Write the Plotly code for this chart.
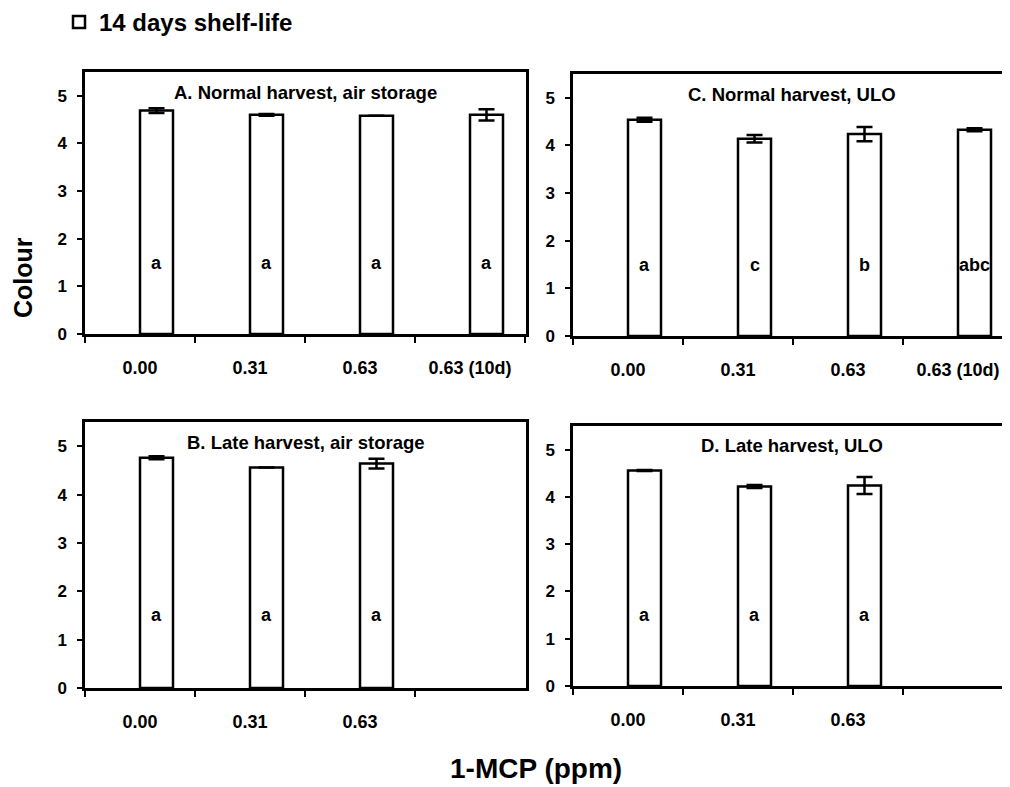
import plotly.graph_objects as go

# ---------------- data ----------------
doses_4 = ["0.00", "0.31", "0.63", "0.63 (10d)"]
doses_3 = ["0.00", "0.31", "0.63"]

series_name = "14 days shelf-life"

title_A = "A. Normal harvest, air storage"
colour_A = [4.69, 4.60, 4.58, 4.60]
err_A = [0.05, 0.02, 0.0, 0.12]
letters_A = ["a", "a", "a", "a"]

title_C = "C. Normal harvest, ULO"
colour_C = [4.54, 4.14, 4.24, 4.33]
err_C = [0.04, 0.08, 0.15, 0.03]
letters_C = ["a", "c", "b", "abc"]

title_B = "B. Late harvest, air storage"
colour_B = [4.76, 4.56, 4.64]
err_B = [0.03, 0.0, 0.10]
letters_B = ["a", "a", "a"]

title_D = "D. Late harvest, ULO"
colour_D = [4.56, 4.22, 4.24]
err_D = [0.01, 0.03, 0.18]
letters_D = ["a", "a", "a"]

y_ticks = [0, 1, 2, 3, 4, 5]
letter_y = 1.5

# ---------------- figure ----------------
OFF = 8                      # default page (body) margin
W, H = 1010 - OFF, 787 - OFF
FONT = "Liberation Sans, Arial, Helvetica, sans-serif"


def px(xp):
    return (xp - OFF) / W


def py(yp):
    return 1 - (yp - OFF) / H


panels = [
    # (suffix, cats, values, errs, letters, title, x span (page px), y span top/bottom (page px), right border)
    ("", doses_4, colour_A, err_A, letters_A, title_A, (85, 526), (72, 334), True),
    ("2", doses_4, colour_C, err_C, letters_C, title_C, (573, 1010), (74, 336), False),
    ("3", doses_3, colour_B, err_B, letters_B, title_B, (85, 526), (422, 688), True),
    ("4", doses_3, colour_D, err_D, letters_D, title_D, (573, 1010), (426, 686), False),
]

fig = go.Figure()
annotations = []

for i, (sfx, cats, vals, errs, lets, ttl, xd, yd, rborder) in enumerate(panels):
    xa = "x" + sfx
    ya = "y" + sfx
    fig.add_trace(go.Bar(
        x=cats, y=vals, xaxis=xa, yaxis=ya,
        name=series_name, showlegend=(i == 0),
        width=0.3, offset=0,
        marker=dict(color="white", line=dict(color="black", width=2.5)),
        error_y=dict(type="data", array=errs, visible=True,
                     color="black", thickness=2.5, width=8),
    ))
    for j, l in enumerate(lets):
        annotations.append(dict(
            x=j + 0.15, y=letter_y, xref=xa, yref=ya, text=l, showarrow=False,
            font=dict(family=FONT, size=18, color="black", weight="bold"),
        ))
    annotations.append(dict(
        x=0.5, y=5.08, xref=xa + " domain", yref=ya, text=ttl, showarrow=False,
        yanchor="middle",
        font=dict(family=FONT, size=18.5, color="black", weight="bold"),
    ))
    xkey = "xaxis" + sfx
    ykey = "yaxis" + sfx
    span = xd[1] - xd[0]
    rng_hi = -0.5 + span / 110.0
    fig.update_layout(**{
        xkey: dict(
            domain=[px(xd[0]), min(1.0, px(xd[1]))], anchor=ya,
            type="category", categoryorder="array", categoryarray=cats,
            range=[-0.5, rng_hi],
            showline=True, linecolor="black", linewidth=2.5, mirror=True,
            ticks="outside", tickson="boundaries", ticklen=6, tickwidth=1.5,
            tickcolor="black", ticklabelstandoff=16,
            tickfont=dict(family=FONT, size=18, color="black", weight="bold"),
            showgrid=False, zeroline=False, fixedrange=True,
        ),
        ykey: dict(
            domain=[py(yd[1]), py(yd[0])], anchor=xa,
            range=[0, 5.5], tickmode="array", tickvals=y_ticks,
            showline=True, linecolor="black", linewidth=2.5, mirror=rborder,
            ticks="outside", ticklen=5, tickwidth=1.5, tickcolor="black",
            ticklabelstandoff=7,
            tickfont=dict(family=FONT, size=17, color="black", weight="bold"),
            showgrid=False, zeroline=False, fixedrange=True,
        ),
    })

annotations.append(dict(
    x=px(23), y=py(278), xref="paper", yref="paper", text="Colour",
    textangle=-90, showarrow=False, xanchor="center", yanchor="middle",
    font=dict(family=FONT, size=25, color="black", weight="bold"),
))
annotations.append(dict(
    x=px(536), y=py(768), xref="paper", yref="paper", text="1-MCP (ppm)",
    showarrow=False, xanchor="center", yanchor="middle",
    font=dict(family=FONT, size=28, color="black", weight="bold"),
))

fig.update_layout(
    width=W, height=H,
    margin=dict(l=0, r=0, t=0, b=0, autoexpand=False),
    paper_bgcolor="white", plot_bgcolor="white",
    bargap=0.4,
    annotations=annotations,
    showlegend=True,
    legend=dict(
        x=px(59), y=py(0), xanchor="left", yanchor="top",
        bgcolor="rgba(0,0,0,0)", borderwidth=0,
        font=dict(family=FONT, size=24, color="black", weight="bold"),
    ),
)

fig.write_html("out.html")
